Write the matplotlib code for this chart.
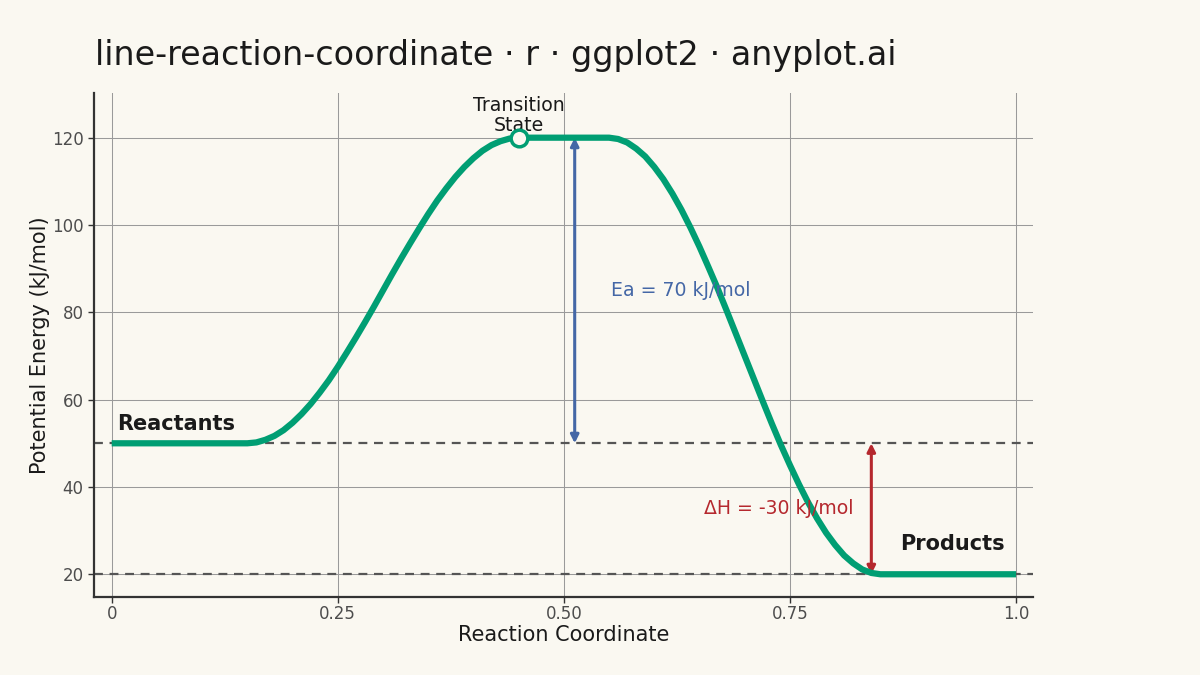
import matplotlib.pyplot as plt

plt.rcParams['font.family'] = ['DejaVu Sans']

# reaction coordinate and energy
coord = [0.0, 0.15, 0.16, 0.17, 0.18, 0.19, 0.20, 0.21, 0.22, 0.23, 0.24, 0.25,
         0.26, 0.27, 0.28, 0.29, 0.30, 0.31, 0.32, 0.33, 0.34, 0.35, 0.36, 0.37,
         0.38, 0.39, 0.40, 0.41, 0.42, 0.43, 0.44, 0.45,
         0.55, 0.56, 0.57, 0.58, 0.59, 0.60, 0.61, 0.62, 0.63, 0.64, 0.65, 0.66,
         0.67, 0.68, 0.69, 0.70, 0.71, 0.72, 0.73, 0.74, 0.75, 0.76, 0.77, 0.78,
         0.79, 0.80, 0.81, 0.82, 0.83, 0.84, 0.85, 1.0]
energy = [50, 50, 50.2, 50.8, 51.7, 53.0, 54.7, 56.7, 59.0, 61.6, 64.4, 67.5,
          70.8, 74.2, 77.7, 81.3, 85.0, 88.7, 92.3, 95.8, 99.2, 102.5, 105.6, 108.4,
          111.0, 113.3, 115.3, 117.0, 118.3, 119.2, 119.8, 120,
          120, 119.7, 118.9, 117.5, 115.7, 113.3, 110.5, 107.2, 103.5, 99.4, 95.0, 90.3,
          85.5, 80.4, 75.2, 70.0, 64.8, 59.6, 54.5, 49.6, 45.0, 40.6, 36.5, 32.8,
          29.5, 26.7, 24.3, 22.5, 21.1, 20.3, 20, 20]

reactant_e = 50
product_e = 20
ts_x, ts_e = 0.45, 120
ea_x = 0.512
dh_x = 0.84

x_ticks = [0, 0.25, 0.5, 0.75, 1.0]
x_labels = ['0', '0.25', '0.50', '0.75', '1.0']
y_ticks = [20, 40, 60, 80, 100, 120]

bg = '#FAF8F1'
green = '#009E73'
blue = '#4467A6'
red = '#B5282E'

fig = plt.figure(figsize=(12, 6.75), dpi=100, facecolor=bg)
ax = fig.add_axes([0.0783, 0.1156, 0.7827, 0.7464], facecolor=bg)

ax.axhline(reactant_e, color='#555555', lw=1.6, ls=(0, (4, 3)), zorder=1)
ax.axhline(product_e, color='#555555', lw=1.6, ls=(0, (4, 3)), zorder=1)

ax.plot(coord, energy, color=green, lw=4.5, solid_capstyle='butt',
        solid_joinstyle='round', zorder=3)
ax.plot([ts_x], [ts_e], 'o', ms=12, mfc=bg, mec=green, mew=2.5, zorder=4)

# activation energy and enthalpy arrows
ax.annotate('', xy=(ea_x, ts_e), xytext=(ea_x, reactant_e),
            arrowprops=dict(arrowstyle='<|-|>', color=blue, lw=2.2,
                            mutation_scale=12, shrinkA=0, shrinkB=0), zorder=2)
ax.annotate('', xy=(dh_x, reactant_e), xytext=(dh_x, product_e),
            arrowprops=dict(arrowstyle='<|-|>', color=red, lw=2.2,
                            mutation_scale=12, shrinkA=0, shrinkB=0), zorder=2)

ax.text(0.552, 85, 'Ea = 70 kJ/mol', color=blue, fontsize=13.6, va='center', ha='left')
ax.text(0.82, 35, '\u0394H = -30 kJ/mol', color=red, fontsize=13.6, va='center', ha='right')
ax.text(0.006, 53, 'Reactants', fontsize=15, fontweight='bold', color='#1a1a1a',
        va='baseline', ha='left')
ax.text(0.93, 27, 'Products', fontsize=15, fontweight='bold', color='#1a1a1a',
        va='center', ha='center')
ax.text(ts_x, 120.6, 'Transition\nState', fontsize=13.6, color='#1a1a1a',
        va='bottom', ha='center', linespacing=1.1)

ax.set_xlim(-0.0196, 1.019)
ax.set_ylim(14.8, 130.2)
ax.set_xticks(x_ticks)
ax.set_xticklabels(x_labels)
ax.set_yticks(y_ticks)
ax.grid(True, color='#9a9a9a', lw=0.75, zorder=0)
ax.set_axisbelow(True)

for s in ['top', 'right']:
    ax.spines[s].set_visible(False)
for s in ['left', 'bottom']:
    ax.spines[s].set_color('#333333')
    ax.spines[s].set_linewidth(1.6)
ax.tick_params(colors='#333333', labelcolor='#4D4D4D', labelsize=12, length=4, width=1)
ax.tick_params(axis='x', pad=2)

ax.set_xlabel('Reaction Coordinate', fontsize=15, color='#1a1a1a', labelpad=1)
ax.set_ylabel('Potential Energy (kJ/mol)', fontsize=15, color='#1a1a1a', labelpad=1)

fig.text(0.079, 0.918, 'line-reaction-coordinate \u00b7 r \u00b7 ggplot2 \u00b7 anyplot.ai',
         fontsize=24, color='#1a1a1a', ha='left', va='center')

plt.savefig('out.png', dpi=100, facecolor=bg)
